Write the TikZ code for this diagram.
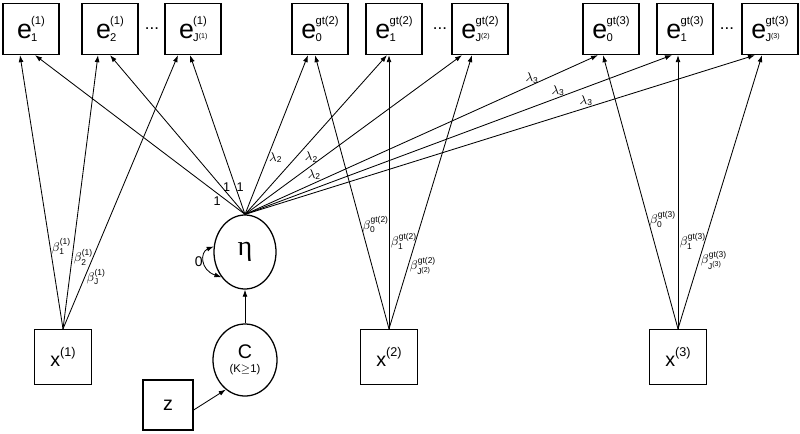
\documentclass[tikz,border=0pt]{standalone}
\usepackage{amsmath}
\usepackage{fontspec}
\setmainfont{Liberation Sans}
\newfontfamily\etafont{Liberation Serif}
\usetikzlibrary{shapes.geometric, arrows.meta, calc}

% e with sub- and superscript, x with superscript
\newcommand{\ev}[2]{{\fontsize{19}{19}\selectfont e}\kern-0.5pt\rlap{\raisebox{-2pt}{\fontsize{8}{8}\selectfont #1}}\raisebox{9.5pt}{\fontsize{8}{8}\selectfont #2}}
\newcommand{\xv}[1]{{\fontsize{14}{14}\selectfont x}\raisebox{7pt}{\fontsize{9}{9}\selectfont #1}}
\newcommand{\tsup}[1]{\raisebox{2pt}{\fontsize{5}{5}\selectfont #1}}

\begin{document}
\begin{tikzpicture}[x=0.025cm, y=-0.025cm, >={Latex[length=5pt,width=3.5pt]},
	ebox/.style={draw, line width=0.9pt, minimum width=1.4cm, minimum height=1.275cm, inner sep=0pt},
	xbox/.style={draw, line width=0.9pt, minimum width=1.42cm, minimum height=1.375cm, inner sep=0pt},
	lat/.style={draw, ellipse, line width=0.9pt, inner sep=0pt},
	arr/.style={->, line width=0.6pt},
	lab/.style={font=\fontsize{9}{9}\selectfont, inner sep=1pt}]
\useasboundingbox (0,0) rectangle (800,433);

% indicator boxes
\node[ebox] (e11) at (31,29) {\ev{1}{(1)}};
\node[ebox] (e12) at (110,29) {\ev{2}{(1)}};
\node (dots1) at (152,29) {\fontsize{12}{12}\selectfont ...};
\node[ebox] (e1J) at (193,29) {\ev{J\tsup{(1)}}{(1)}};
\node[ebox] (e20) at (320,29) {\ev{0}{gt(2)}};
\node[ebox] (e21) at (394,29) {\ev{1}{gt(2)}};
\node (dots2) at (440,29) {\fontsize{12}{12}\selectfont ...};
\node[ebox] (e2J) at (480,29) {\ev{J\tsup{(2)}}{gt(2)}};
\node[ebox] (e30) at (611,29) {\ev{0}{gt(3)}};
\node[ebox] (e31) at (685,29) {\ev{1}{gt(3)}};
\node (dots3) at (727,29) {\fontsize{12}{12}\selectfont ...};
\node[ebox] (e3J) at (770,29) {\ev{J\tsup{(3)}}{gt(3)}};

% latent variables and covariates
\node[lat, minimum width=1.55cm, minimum height=1.85cm] (eta) at (245,252) {\etafont\fontsize{20}{20}\selectfont η};
\node[lat, minimum width=1.6cm, minimum height=1.8cm, align=center] (C) at (245,360)
	{{\fontsize{14}{16}\selectfont C}\\[-2pt]{\fontsize{8}{9}\selectfont (K$\geq$1)}};
\node[draw, line width=0.9pt, minimum size=1.25cm, inner sep=0pt] (z) at (168,405) {\fontsize{14}{14}\selectfont z};
\node[xbox] (x1) at (63,357) {\xv{(1)}};
\node[xbox] (x2) at (389,357) {\xv{(2)}};
\node[xbox] (x3) at (678,357) {\xv{(3)}};

% loadings of eta
\draw[arr] (eta.north) -- ($(e11.south)+(4,0)$) node[lab, pos=0.133, below=1pt] {1};
\draw[arr] (eta.north) -- (e12.south) node[lab, pos=0.17, right, inner sep=0.5pt] {1};
\draw[arr] (eta.north) -- ($(e1J.south)+(-3,0)$) node[lab, pos=0.174, right, inner sep=0.5pt] {1};
\draw[arr] (eta.north) -- ($(e20.south)+(-12,0)$) node[lab, pos=0.355, right] {$\lambda_{\text{2}}$};
\draw[arr] (eta.north) -- ($(e21.south)+(-7,0)$) node[lab, pos=0.36, right=5pt] {$\lambda_{\text{2}}$};
\draw[arr] (eta.north) -- ($(e2J.south)+(-18,0)$) node[lab, pos=0.249, right=5pt] {$\lambda_{\text{2}}$};
\draw[arr] (eta.north) -- ($(e30.south)+(-13,0)$) node[lab, pos=0.813, above] {$\lambda_{\text{3}}$};
\draw[arr] (eta.north) -- ($(e31.south)+(-13,0)$) node[lab, pos=0.733, above] {$\lambda_{\text{3}}$};
\draw[arr] (eta.north) -- ($(e3J.south)+(-15,0)$) node[lab, pos=0.669, above] {$\lambda_{\text{3}}$};

% direct effects of the covariates
\draw[arr] (x1.north) -- ($(e11.south)+(-11,0)$) node[lab, pos=0.30, right] {$\beta_{\text{1}}^{\text{(1)}}$};
\draw[arr] (x1.north) -- ($(e12.south)+(-12,0)$) node[lab, pos=0.26, right] {$\beta_{\text{2}}^{\text{(1)}}$};
\draw[arr] (x1.north) -- ($(e1J.south)+(-15,0)$) node[lab, pos=0.19, right] {$\beta_{\text{J}}^{\text{(1)}}$};
\draw[arr] (x2.north) -- ($(e20.south)+(-5,0)$) node[lab, pos=0.38, right] {$\beta_{\text{0}}^{\text{gt(2)}}$};
\draw[arr] (x2.north) -- ($(e21.south)+(-5,0)$) node[lab, pos=0.32, right] {$\beta_{\text{1}}^{\text{gt(2)}}$};
\draw[arr] (x2.north) -- ($(e2J.south)+(-8,0)$) node[lab, pos=0.23, right] {$\beta_{\text{J}^{\text{(2)}}}^{\text{gt(2)}}$};
\draw[arr] (x3.north) -- ($(e30.south)+(-8,0)$) node[lab, pos=0.40, right] {$\beta_{\text{0}}^{\text{gt(3)}}$};
\draw[arr] (x3.north) -- ($(e31.south)+(-7,0)$) node[lab, pos=0.32, right] {$\beta_{\text{1}}^{\text{gt(3)}}$};
\draw[arr] (x3.north) -- ($(e3J.south)+(-8,0)$) node[lab, pos=0.25, right] {$\beta_{\text{J}^{\text{(3)}}}^{\text{gt(3)}}$};

% structural part
\draw[arr] (C) -- (eta);
\draw[arr] ($(z.east)+(0,5)$) -- (C.237);
\draw[<->, line width=0.6pt] (eta.170) .. controls (200,252) and (200,270) .. (eta.227)
	node[midway, left, inner sep=1pt] {\fontsize{10}{10}\selectfont 0};
\end{tikzpicture}
\end{document}
